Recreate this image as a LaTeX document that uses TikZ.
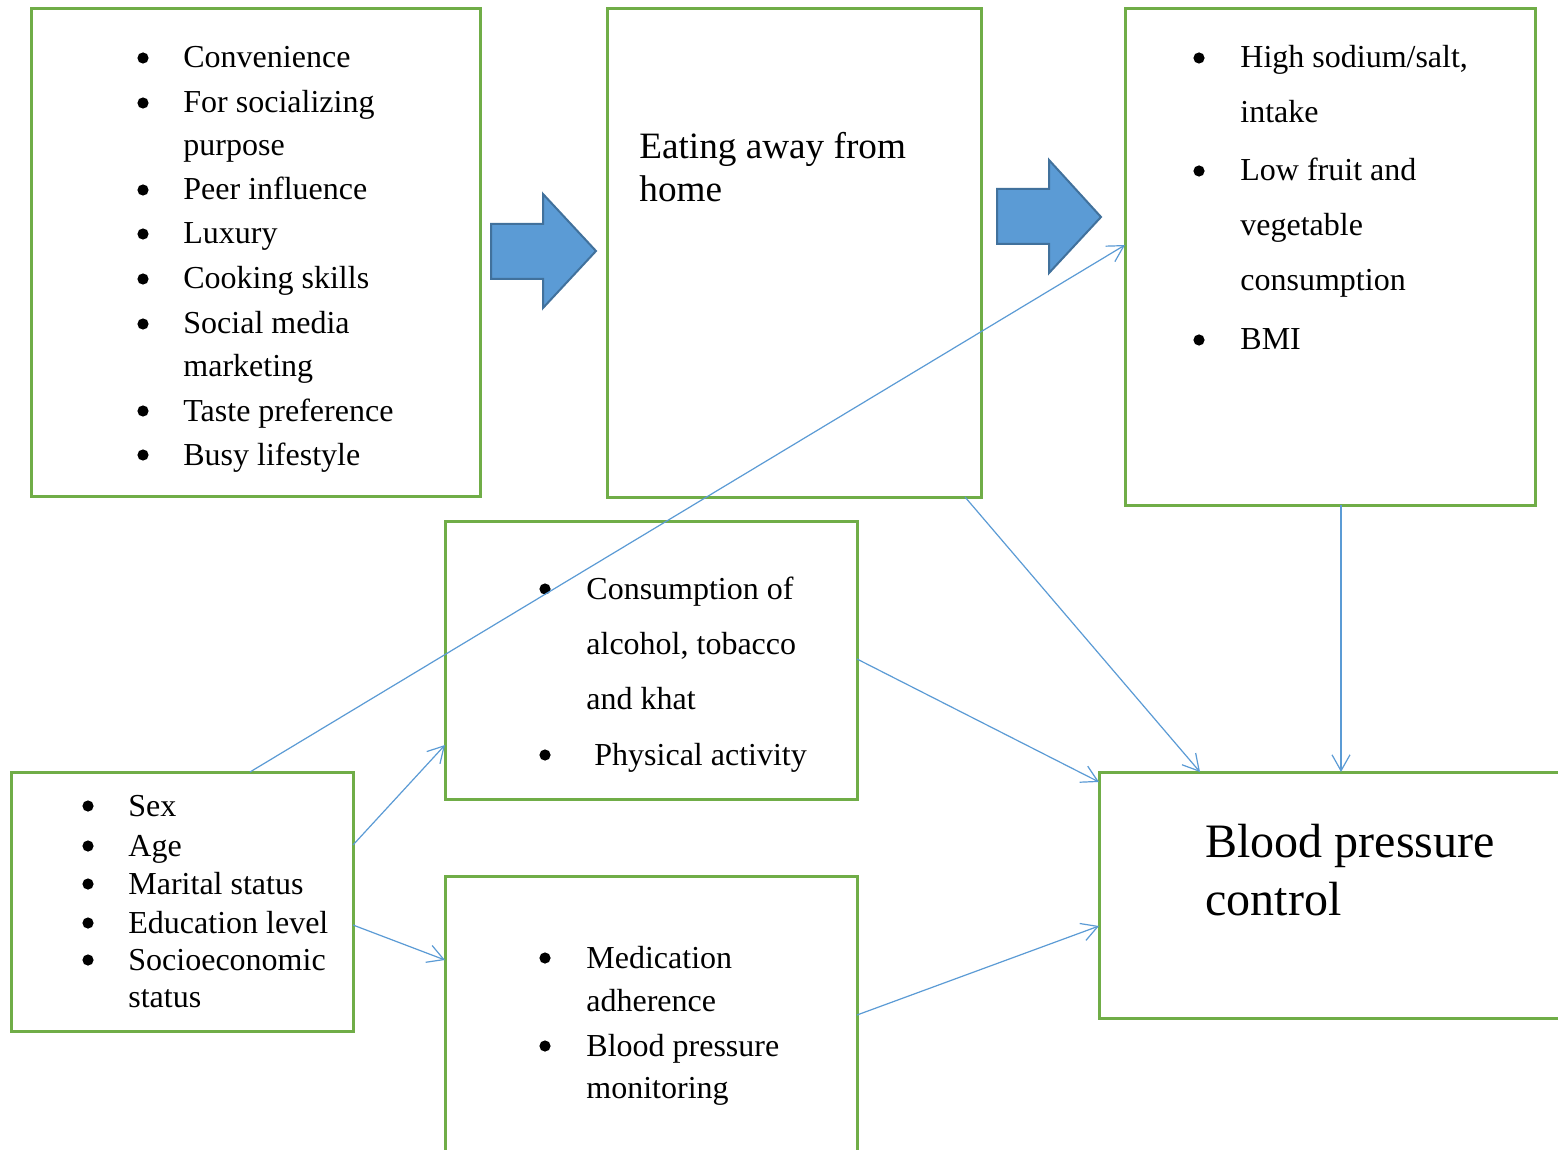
\documentclass[tikz,border=0pt]{standalone}
\usepackage{fontspec}
\setmainfont{Liberation Serif}
\usetikzlibrary{fit,calc,arrows.meta}
\definecolor{boxgreen}{HTML}{70AD47}
\definecolor{linkblue}{HTML}{5B9BD5}
\definecolor{arrowedge}{HTML}{41719C}
\tikzset{
  box/.style={draw=boxgreen, line width=1.5pt, inner sep=0pt, outer sep=0pt},
  link/.style={draw=linkblue, line width=0.6pt, -{Straight Barb[length=8pt,width=9pt,line width=0.6pt]}},
  bigarrow/.style={fill=linkblue, draw=arrowedge, line width=1pt, line join=miter},
  txt/.style={anchor=base west, inner sep=0pt, yshift=-1pt, font=\fontsize{16}{20}\selectfont},
  bul/.style={circle, fill=black, inner sep=0pt, minimum size=5.6pt, yshift=4pt},
}
\begin{document}
\begin{tikzpicture}[x=0.5pt,y=-0.5pt]
\useasboundingbox (0,0) rectangle (1558,1150);
\clip (0,0) rectangle (1558,1150);
\fill[white] (0,0) rectangle (1558,1150);

% boxes
\node[box, fit={(31,9) (480,496)}] (b1) {};
\node[box, fit={(607,9) (981,497)}] (b2) {};
\node[box, fit={(1125,9) (1535,505)}] (b3) {};
\node[box, fit={(445,521) (857,799)}] (b4) {};
\node[box, fit={(445,876) (857,1170)}] (b5) {};
\node[box, fit={(11,772) (353,1031)}] (b6) {};
\node[box, fit={(1099,772) (1580,1018)}] (b7) {};

% block arrows
\path[bigarrow] (491,224) -- (543,224) -- (543,194) -- (596,251) -- (543,308) -- (543,279) -- (491,279) -- cycle;
\path[bigarrow] (997,189) -- (1049,189) -- (1049,160) -- (1101,217) -- (1049,273) -- (1049,244) -- (997,244) -- cycle;

% box 1 text
\node[bul] (u1a) at (143,66) {};
\node[txt] (t1a) at (183,66) {Convenience};
\node[bul] (u1b) at (143,111) {};
\node[txt] (t1b) at (183,111) {For socializing};
\node[txt] (t1c) at (183,154) {purpose};
\node[bul] (u1d) at (143,198) {};
\node[txt] (t1d) at (183,198) {Peer influence};
\node[bul] (u1e) at (143,242) {};
\node[txt] (t1e) at (183,242) {Luxury};
\node[bul] (u1f) at (143,287) {};
\node[txt] (t1f) at (183,287) {Cooking skills};
\node[bul] (u1g) at (143,332) {};
\node[txt] (t1g) at (183,332) {Social media};
\node[txt] (t1h) at (183,374) {marketing};
\node[bul] (u1i) at (143,419) {};
\node[txt] (t1i) at (183,419) {Taste preference};
\node[bul] (u1j) at (143,463) {};
\node[txt] (t1j) at (183,463) {Busy lifestyle};

% box 2 text
\node[txt, font=\fontsize{18.6}{22}\selectfont] (t2a) at (639,157) {Eating away from};
\node[txt, font=\fontsize{18.6}{22}\selectfont] (t2b) at (639,200) {home};

% box 3 text
\node[bul] (u3a) at (1199,66) {};
\node[txt] (t3a) at (1240,66) {High sodium/salt,};
\node[txt] (t3b) at (1240,121) {intake};
\node[bul] (u3c) at (1199,179) {};
\node[txt] (t3c) at (1240,179) {Low fruit and};
\node[txt] (t3d) at (1240,234) {vegetable};
\node[txt] (t3e) at (1240,289) {consumption};
\node[bul] (u3f) at (1199,348) {};
\node[txt] (t3f) at (1240,348) {BMI};

% box 4 text
\node[bul] (u4a) at (545,597) {};
\node[txt] (t4a) at (586,597) {Consumption of};
\node[txt] (t4b) at (586,652) {alcohol, tobacco};
\node[txt] (t4c) at (586,707) {and khat};
\node[bul] (u4d) at (545,763) {};
\node[txt] (t4d) at (594,763) {Physical activity};

% box 5 text
\node[bul] (u5a) at (545,966) {};
\node[txt] (t5a) at (586,966) {Medication};
\node[txt] (t5b) at (586,1009) {adherence};
\node[bul] (u5c) at (545,1054) {};
\node[txt] (t5c) at (586,1054) {Blood pressure};
\node[txt] (t5d) at (586,1096) {monitoring};

% box 6 text
\node[bul] (u6a) at (88,814) {};
\node[txt] (t6a) at (128,814) {Sex};
\node[bul] (u6b) at (88,854) {};
\node[txt] (t6b) at (128,854) {Age};
\node[bul] (u6c) at (88,892) {};
\node[txt] (t6c) at (128,892) {Marital status};
\node[bul] (u6d) at (88,931) {};
\node[txt] (t6d) at (128,931) {Education level};
\node[bul] (u6e) at (88,968) {};
\node[txt] (t6e) at (128,968) {Socioeconomic};
\node[txt] (t6f) at (128,1005) {status};

% box 7 text
\node[txt, yshift=0pt, font=\fontsize{24}{28}\selectfont] (t7a) at (1205,855) {Blood pressure};
\node[txt, yshift=0pt, font=\fontsize{24}{28}\selectfont] (t7b) at (1205,913) {control};

% connectors
\draw[link] ($(b6.north west)+(239,0)$) -- ($(b3.north west)+(0,236)$);
\draw[link] ($(b6.north east)+(0,73)$) -- ($(b4.north west)+(0,224)$);
\draw[link] ($(b6.north east)+(0,153)$) -- ($(b5.north west)+(0,84)$);
\draw[link] ($(b2.south west)+(358,0)$) -- ($(b7.north west)+(101,0)$);
\draw[link] ($(b3.south west)+(216,0)$) -- ($(b7.north west)+(242,0)$);
\draw[link] ($(b4.north east)+(0,138)$) -- ($(b7.north west)+(0,10)$);
\draw[link] ($(b5.north east)+(0,139)$) -- ($(b7.north west)+(0,154)$);
\end{tikzpicture}
\end{document}
